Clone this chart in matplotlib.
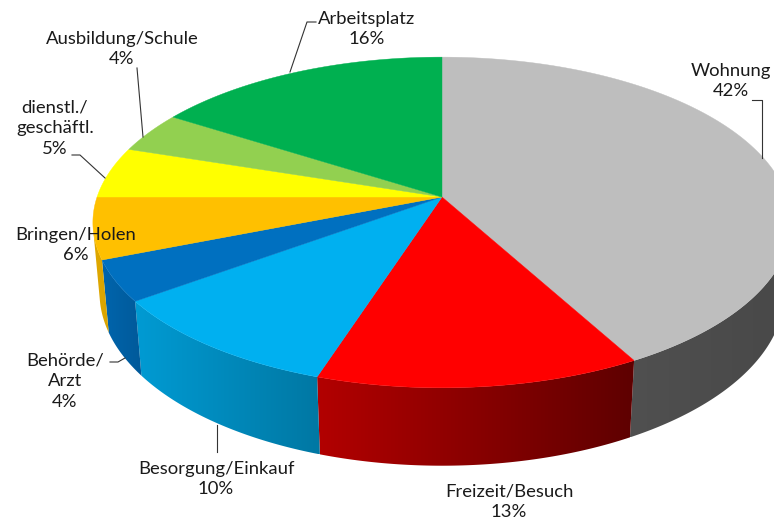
import numpy as np
import matplotlib
matplotlib.use("Agg")
import matplotlib.pyplot as plt
from matplotlib.patches import Polygon

# Data (clockwise from 12 o'clock)
LABELS = ["Wohnung", "Freizeit/Besuch", "Besorgung/Einkauf", "Behörde/\nArzt",
          "Bringen/Holen", "dienstl./\ngeschäftl.", "Ausbildung/Schule", "Arbeitsplatz"]
VALUES = [42, 13, 10, 4, 6, 5, 4, 16]
COLORS = ["#BEBEBE", "#FF0000", "#00B0F0", "#0070C0",
          "#FFC000", "#FFFF00", "#92D050", "#00B050"]
# side wall shading (left factor, right factor)
SIDE_SHADE = [(0.42, 0.38), (0.70, 0.37), (0.88, 0.68), (0.90, 0.80),
              (0.88, 0.85), (0.85, 0.80), (0.85, 0.80), (0.85, 0.80)]

# label placement (pixel coords): text centre, leader polyline
LABEL_POS = [(731, 81), (509, 502), (216, 479), (65, 381),
             (76, 245), (55, 128), (122, 49), (367, 29)]
LEADERS = [[(752, 100), (762, 100), (762, 158)],
           None,
           [(217, 452), (217, 425)],
           [(110, 362), (118, 362), (125, 358)],
           None,
           [(72, 155), (80, 155), (105, 178)],
           [(137, 68), (143, 137)],
           [(316, 22), (307, 22), (290, 72)]]

# 3D view parameters
W, H = 774, 525
CX, CY = 442, 197
F = 1980.0
DIST = 5.74
ELEV = np.radians(27.9)
DEPTH = 0.233
SE, CE = np.sin(ELEV), np.cos(ELEV)


def project(t, z):
    x, y = np.sin(t), np.cos(t)
    zc = DIST + y * CE - z * SE
    return CX + F * x / zc, CY - F * (y * SE + z * CE) / zc


fig = plt.figure(figsize=(W / 100, H / 100), dpi=100)
ax = fig.add_axes([0, 0, 1, 1])
ax.set_xlim(0, W)
ax.set_ylim(H, 0)
ax.axis("off")

fracs = np.array(VALUES, dtype=float) / sum(VALUES)
bounds = np.concatenate([[0], np.cumsum(fracs)]) * 2 * np.pi

# visible part of the cylinder wall
t_vis = np.arccos(-1 / (DIST * CE))
vis_lo, vis_hi = t_vis, 2 * np.pi - t_vis

for i, col in enumerate(COLORS):
    a0, a1 = max(bounds[i], vis_lo), min(bounds[i + 1], vis_hi)
    if a1 <= a0:
        continue
    ts = np.linspace(a0, a1, 150)
    tx, ty = project(ts, 0)
    bx, by = project(ts[::-1], -DEPTH)
    pts = list(zip(tx, ty)) + list(zip(bx, by))
    poly = Polygon(pts, closed=True, facecolor="none", edgecolor="none")
    ax.add_patch(poly)
    xs = [p[0] for p in pts]
    ys = [p[1] for p in pts]
    x0, x1 = min(xs), max(xs)
    fl, fr = SIDE_SHADE[i]
    f = np.linspace(fl, fr, 256)
    rgb = np.array(matplotlib.colors.to_rgb(col))
    img = (f[:, None] * rgb[None, :])[None, :, :]
    im = ax.imshow(img, extent=(x0, x1, max(ys), min(ys)), aspect="auto",
                   interpolation="bilinear", zorder=1)
    im.set_clip_path(poly)

# top face
for i, col in enumerate(COLORS):
    ts = np.linspace(bounds[i], bounds[i + 1], 200)
    xs, ys = project(ts, 0)
    pts = [(CX, CY)] + list(zip(xs, ys))
    ax.add_patch(Polygon(pts, closed=True, facecolor=col, edgecolor=col,
                         linewidth=0.3, zorder=2))

ax.set_xlim(0, W)
ax.set_ylim(H, 0)

# labels
for i, lab in enumerate(LABELS):
    x, y = LABEL_POS[i]
    ax.text(x, y, f"{lab}\n{VALUES[i]}%", ha="center", va="center",
            fontsize=13.3, family="Lato", color="#1a1a1a", linespacing=1.38,
            zorder=3)
    if LEADERS[i]:
        lx, ly = zip(*LEADERS[i])
        ax.plot(lx, ly, color="#333333", lw=0.8, zorder=3)

fig.savefig("out.png", dpi=100)
